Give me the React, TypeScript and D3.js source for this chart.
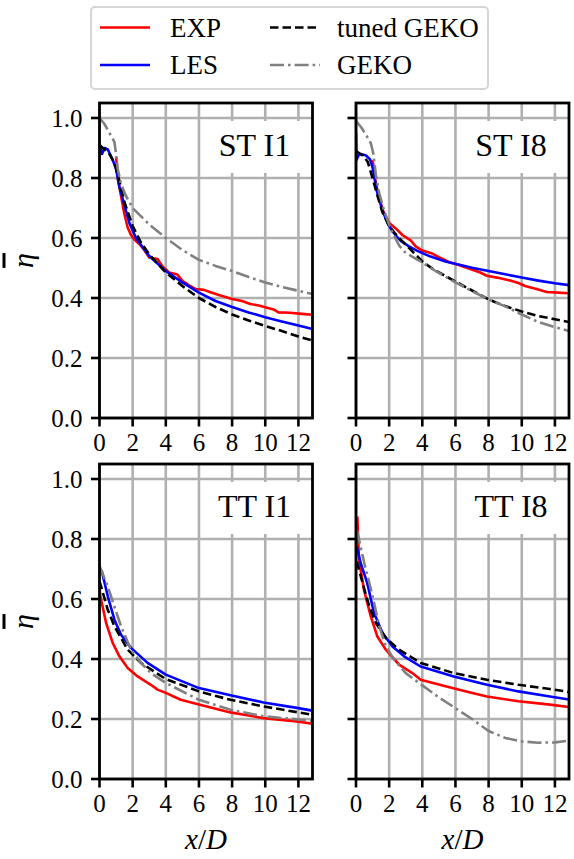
import * as d3 from 'd3';

// ─── datos ──────────────────────────────────────────────────────────────────
const xTicks = [0, 2, 4, 6, 8, 10, 12];
const yTicks = [0, 0.2, 0.4, 0.6, 0.8, 1.0];
const xDomain: [number, number] = [0, 12.85];
const yDomain: [number, number] = [0, 1.05];

type Pt = [number, number];

// ST I1
const stI1Exp: Pt[] = [[1.0, 0.87], [1.1, 0.8], [1.3, 0.74], [1.5, 0.68], [1.7, 0.635], [1.9, 0.61], [2.1, 0.595], [2.4, 0.58], [2.7, 0.56], [3.0, 0.535], [3.5, 0.53], [3.8, 0.505], [4.2, 0.485], [4.7, 0.478], [5.0, 0.457], [5.4, 0.442], [5.8, 0.43], [6.3, 0.427], [6.7, 0.419], [7.2, 0.41], [8, 0.397], [8.6, 0.39], [9.1, 0.38], [9.6, 0.375], [10, 0.369], [10.5, 0.362], [10.8, 0.352], [11.5, 0.351], [12.2, 0.347], [12.85, 0.344]];
const stI1Les: Pt[] = [[0, 0.91], [0.15, 0.88], [0.3, 0.9], [0.5, 0.895], [0.8, 0.86], [1.0, 0.83], [1.2, 0.77], [1.5, 0.71], [1.8, 0.65], [2.2, 0.6], [3, 0.54], [4, 0.49], [5, 0.452], [6, 0.418], [7, 0.39], [8, 0.37], [9, 0.352], [10, 0.336], [11, 0.322], [12, 0.308], [12.85, 0.297]];
const stI1Tuned: Pt[] = [[0, 0.91], [0.3, 0.895], [0.6, 0.88], [0.9, 0.85], [1.2, 0.79], [1.5, 0.72], [2, 0.64], [2.5, 0.585], [3, 0.545], [4, 0.485], [5, 0.44], [6, 0.4], [7, 0.37], [8, 0.345], [9, 0.325], [10, 0.307], [11, 0.29], [12, 0.272], [12.85, 0.258]];
const stI1Geko: Pt[] = [[0, 1.0], [0.3, 0.98], [0.6, 0.95], [0.9, 0.92], [1.0, 0.88], [1.1, 0.83], [1.3, 0.78], [1.6, 0.74], [2, 0.7], [3, 0.645], [4, 0.6], [5, 0.56], [6, 0.527], [7, 0.507], [8, 0.49], [9, 0.47], [10, 0.452], [11, 0.437], [12, 0.424], [12.85, 0.413]];

// ST I8
const stI8Exp: Pt[] = [[1.0, 0.86], [1.2, 0.78], [1.6, 0.695], [2.0, 0.65], [2.4, 0.632], [2.8, 0.61], [3.3, 0.592], [3.6, 0.572], [4.0, 0.558], [4.6, 0.548], [5.0, 0.536], [5.6, 0.52], [6.2, 0.51], [6.8, 0.498], [7.5, 0.485], [7.9, 0.474], [8.5, 0.468], [9.3, 0.458], [9.8, 0.45], [10.2, 0.44], [11, 0.428], [11.5, 0.42], [12.2, 0.418], [12.85, 0.416]];
const stI8Les: Pt[] = [[0, 0.95], [0.03, 0.86], [0.15, 0.875], [0.3, 0.88], [0.6, 0.875], [0.85, 0.862], [1.0, 0.835], [1.25, 0.758], [1.6, 0.69], [1.95, 0.645], [2.3, 0.615], [2.7, 0.59], [3.2, 0.572], [3.7, 0.557], [4.5, 0.538], [5.4, 0.522], [6.3, 0.51], [7, 0.501], [8, 0.49], [9, 0.479], [10, 0.468], [11, 0.458], [12, 0.449], [12.85, 0.443]];
const stI8Tuned: Pt[] = [[0, 0.89], [0.4, 0.875], [0.7, 0.855], [1.0, 0.8], [1.3, 0.74], [1.6, 0.685], [2, 0.64], [2.5, 0.605], [3, 0.578], [3.5, 0.55], [4, 0.522], [4.6, 0.498], [5.3, 0.476], [6, 0.455], [7, 0.425], [8, 0.395], [9, 0.373], [10, 0.355], [11, 0.34], [12, 0.329], [12.85, 0.32]];
const stI8Geko: Pt[] = [[0, 0.99], [0.3, 0.97], [0.6, 0.945], [0.9, 0.915], [1.05, 0.88], [1.2, 0.81], [1.4, 0.75], [1.7, 0.69], [2.1, 0.63], [2.6, 0.575], [3, 0.55], [3.8, 0.525], [4.8, 0.49], [6, 0.452], [7, 0.423], [8, 0.395], [9, 0.372], [10, 0.345], [11, 0.32], [12, 0.303], [12.85, 0.29]];

// TT I1
const ttI1Exp: Pt[] = [[0, 0.64], [0.05, 0.61], [0.4, 0.52], [0.8, 0.453], [1.2, 0.409], [1.7, 0.37], [2.3, 0.342], [3.1, 0.314], [3.5, 0.298], [4, 0.287], [4.9, 0.264], [6, 0.248], [7.9, 0.222], [9.9, 0.203], [11.9, 0.192], [12.85, 0.184]];
const ttI1Les: Pt[] = [[0, 0.7], [0.14, 0.692], [0.5, 0.609], [0.9, 0.531], [1.3, 0.481], [1.9, 0.437], [2.9, 0.387], [4, 0.348], [6, 0.303], [7.9, 0.279], [9.9, 0.255], [11.9, 0.237], [12.85, 0.228]];
const ttI1Tuned: Pt[] = [[0, 0.66], [0.5, 0.564], [0.9, 0.509], [1.7, 0.431], [2.5, 0.387], [4, 0.333], [6, 0.292], [7.9, 0.264], [9.9, 0.242], [12.85, 0.214]];
const ttI1Geko: Pt[] = [[0, 0.71], [0.5, 0.642], [0.9, 0.575], [1.3, 0.509], [1.9, 0.431], [2.5, 0.387], [3.1, 0.353], [4, 0.32], [6, 0.264], [7.9, 0.231], [9.9, 0.209], [12.85, 0.194]];

// TT I8
const ttI8Exp: Pt[] = [[0.08, 0.875], [0.18, 0.731], [0.48, 0.631], [0.89, 0.542], [1.29, 0.475], [1.8, 0.431], [2.6, 0.381], [3.4, 0.353], [3.9, 0.331], [5.4, 0.309], [6.65, 0.292], [7.9, 0.275], [9.8, 0.259], [11.7, 0.248], [12.85, 0.24]];
const ttI8Les: Pt[] = [[0.05, 0.775], [0.28, 0.72], [0.68, 0.653], [1.09, 0.553], [1.6, 0.487], [2.2, 0.442], [2.9, 0.409], [3.9, 0.375], [5.9, 0.342], [7.9, 0.314], [9.8, 0.292], [11.7, 0.275], [12.85, 0.265]];
const ttI8Tuned: Pt[] = [[0.05, 0.725], [0.4, 0.653], [0.8, 0.575], [1.2, 0.52], [1.8, 0.47], [2.6, 0.431], [3.9, 0.387], [5.9, 0.353], [7.9, 0.331], [9.8, 0.314], [11.7, 0.3], [12.85, 0.29]];
const ttI8Geko: Pt[] = [[0.05, 0.83], [0.5, 0.72], [1, 0.61], [1.4, 0.51], [1.8, 0.442], [2.3, 0.398], [3, 0.353], [4, 0.312], [5, 0.272], [6, 0.236], [7, 0.2], [8, 0.16], [9, 0.137], [10, 0.125], [11, 0.121], [12, 0.122], [12.85, 0.128]];

const panelLabels = ['ST I1', 'ST I8', 'TT I1', 'TT I8'];
const panelData = [
  { exp: stI1Exp, les: stI1Les, tuned: stI1Tuned, geko: stI1Geko },
  { exp: stI8Exp, les: stI8Les, tuned: stI8Tuned, geko: stI8Geko },
  { exp: ttI1Exp, les: ttI1Les, tuned: ttI1Tuned, geko: ttI1Geko },
  { exp: ttI8Exp, les: ttI8Les, tuned: ttI8Tuned, geko: ttI8Geko },
];

const legendNames = ['EXP', 'LES', 'tuned GEKO', 'GEKO'];

// ─── estilos ────────────────────────────────────────────────────────────────
const FONT = '"Liberation Serif", "DejaVu Serif", serif';
const LW = 2.6;
const GRID = '#b0b0b0';
const seriesStyle: Record<string, { color: string; dash?: string }> = {
  exp: { color: '#ff0000' },
  les: { color: '#0000ff' },
  tuned: { color: '#000000', dash: '8.5 4' },
  geko: { color: '#808080', dash: '14 4 2.6 4' },
};
const seriesOrder = ['exp', 'les', 'tuned', 'geko'];

const W = 574;
const H = 859;
const colLeft = [99.5, 356];
const rowTop = [103, 464];
const PW = 213;
const PH = 315;

function Panel({ idx }: { idx: number }) {
  const col = idx % 2;
  const row = Math.floor(idx / 2);
  const x0 = colLeft[col];
  const y0 = rowTop[row];
  const x = d3.scaleLinear().domain(xDomain).range([0, PW]);
  const y = d3.scaleLinear().domain(yDomain).range([PH, 0]);
  const line = d3.line<Pt>().x(d => x(d[0])).y(d => y(d[1]));
  const data = panelData[idx] as Record<string, Pt[]>;
  const clipId = `clip-${idx}`;
  const labelCx = 155;

  return (
    <g transform={`translate(${x0},${y0})`}>
      <defs>
        <clipPath id={clipId}>
          <rect x={0} y={0} width={PW} height={PH} />
        </clipPath>
      </defs>
      {/* rejilla */}
      {xTicks.map(t => (
        <line key={`gx${t}`} x1={x(t)} x2={x(t)} y1={0} y2={PH} stroke={GRID} strokeWidth={2.6} />
      ))}
      {yTicks.map(t => (
        <line key={`gy${t}`} x1={0} x2={PW} y1={y(t)} y2={y(t)} stroke={GRID} strokeWidth={2.6} />
      ))}
      {/* caja blanca de la etiqueta */}
      <rect x={labelCx - 48} y={18} width={96} height={52} fill="#fff" />
      <text x={labelCx} y={53} textAnchor="middle" fontFamily={FONT} fontSize={32}>
        {panelLabels[idx]}
      </text>
      {/* curvas */}
      <g clipPath={`url(#${clipId})`}>
        {seriesOrder.map(k => (
          <path
            key={k}
            d={line(data[k]) ?? ''}
            fill="none"
            stroke={seriesStyle[k].color}
            strokeWidth={LW}
            strokeDasharray={seriesStyle[k].dash}
            strokeLinejoin="round"
          />
        ))}
      </g>
      {/* marco */}
      <rect x={0} y={0} width={PW} height={PH} fill="none" stroke="#000" strokeWidth={2.8} />
      {/* ticks */}
      {xTicks.map(t => (
        <g key={`tx${t}`}>
          <line x1={x(t)} x2={x(t)} y1={PH} y2={PH + 8.5} stroke="#000" strokeWidth={2.6} />
          <text x={x(t)} y={PH + 33} textAnchor="middle" fontFamily={FONT} fontSize={25}>{t}</text>
        </g>
      ))}
      {yTicks.map(t => (
        <g key={`ty${t}`}>
          <line x1={-8.5} x2={0} y1={y(t)} y2={y(t)} stroke="#000" strokeWidth={2.6} />
          {col === 0 && (
            <text x={-17} y={y(t)} dy="0.35em" textAnchor="end" fontFamily={FONT} fontSize={25}>
              {d3.format('.1f')(t)}
            </text>
          )}
        </g>
      ))}
      {col === 0 && (
        <text
          transform={`translate(-67,${PH / 2}) rotate(-90)`}
          textAnchor="middle"
          fontFamily={FONT}
          fontStyle="italic"
          fontSize={30}
          style={{ textDecoration: 'overline' }}
        >
          η
        </text>
      )}
      {row === 1 && (
        <text x={PW / 2} y={PH + 70} textAnchor="middle" fontFamily={FONT} fontSize={29}>
          <tspan fontStyle="italic">x</tspan>/<tspan fontStyle="italic">D</tspan>
        </text>
      )}
    </g>
  );
}

function Legend() {
  const items = seriesOrder.map((k, i) => ({ k, name: legendNames[i], col: Math.floor(i / 2), row: i % 2 }));
  const handleX = [100, 270];
  const textX = [170, 337];
  const rowY = [27.5, 65];
  return (
    <g>
      <rect x={91} y={7} width={397} height={82} rx={4} fill="#fff" stroke="#d5d5d5" strokeWidth={2} />
      {items.map(it => (
        <g key={it.k}>
          <line
            x1={handleX[it.col]}
            x2={handleX[it.col] + 50}
            y1={rowY[it.row]}
            y2={rowY[it.row]}
            stroke={seriesStyle[it.k].color}
            strokeWidth={LW}
            strokeDasharray={seriesStyle[it.k].dash}
          />
          <text x={textX[it.col]} y={rowY[it.row]} dy="0.35em" fontFamily={FONT} fontSize={27}>
            {it.name}
          </text>
        </g>
      ))}
    </g>
  );
}

export default function App() {
  return (
    <svg width={W} height={H} style={{ position: 'absolute', left: 0, top: 0, background: '#fff' }}>
      <rect width={W} height={H} fill="#fff" />
      {[0, 1, 2, 3].map(i => <Panel key={i} idx={i} />)}
      <Legend />
    </svg>
  );
}
